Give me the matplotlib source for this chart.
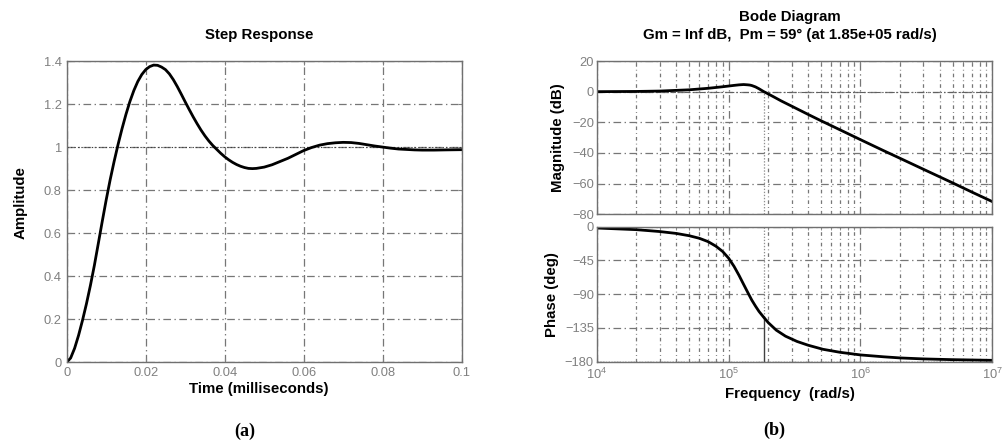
import numpy as np
import matplotlib
matplotlib.use("Agg")
import matplotlib.pyplot as plt

plt.rcParams['font.family'] = ['Liberation Sans', 'DejaVu Sans']
plt.rcParams['mathtext.fontset'] = 'custom'
plt.rcParams['mathtext.rm'] = 'Liberation Sans'
plt.rcParams['mathtext.it'] = 'Liberation Sans:italic'
plt.rcParams['lines.scale_dashes'] = False

# step response (time in ms)
step_t = [0, 0.001, 0.002, 0.003, 0.004, 0.005, 0.006, 0.007, 0.008, 0.009,
          0.010, 0.011, 0.012, 0.013, 0.014, 0.015, 0.016, 0.017, 0.018, 0.019,
          0.020, 0.021, 0.022, 0.023, 0.024, 0.025, 0.026, 0.027, 0.028, 0.029,
          0.030, 0.031, 0.032, 0.033, 0.034, 0.035, 0.036, 0.037, 0.038, 0.039,
          0.040, 0.041, 0.042, 0.043, 0.044, 0.045, 0.046, 0.047, 0.048, 0.050,
          0.052, 0.054, 0.056, 0.058, 0.060, 0.062, 0.064, 0.066, 0.068, 0.070,
          0.072, 0.074, 0.076, 0.078, 0.080, 0.082, 0.084, 0.086, 0.088, 0.090,
          0.093, 0.096, 0.100]
step_y = [0, 0.02, 0.065, 0.125, 0.195, 0.272, 0.357, 0.45, 0.552, 0.655,
          0.755, 0.848, 0.933, 1.012, 1.085, 1.152, 1.212, 1.263, 1.305, 1.337,
          1.36, 1.374, 1.381, 1.380, 1.372, 1.36, 1.34, 1.313, 1.281, 1.246,
          1.21, 1.175, 1.141, 1.109, 1.079, 1.052, 1.028, 1.007, 0.989, 0.971,
          0.955, 0.941, 0.929, 0.919, 0.911, 0.905, 0.901, 0.900, 0.901, 0.907,
          0.918, 0.933, 0.948, 0.966, 0.984, 0.998, 1.009, 1.016, 1.020, 1.022,
          1.021, 1.017, 1.011, 1.005, 1.000, 0.995, 0.991, 0.989, 0.987, 0.986,
          0.986, 0.987, 0.988]

# bode magnitude
mag_w = [1e4, 2e4, 3e4, 5e4, 7e4, 9e4, 1.1e5, 1.2e5, 1.3e5, 1.4e5, 1.45e5,
         1.5e5, 1.6e5, 1.7e5, 1.8e5, 1.85e5, 1.9e5, 2.0e5, 2.2e5, 2.5e5, 3e5,
         4e5, 5e5, 7e5, 1e6, 1.5e6, 2e6, 3e6, 5e6, 7e6, 1e7]
mag_db = [0.0, 0.15, 0.4, 1.2, 2.2, 3.2, 4.1, 4.45, 4.65, 4.45, 4.3,
          4.0, 3.1, 1.9, 0.6, 0.0, -0.5, -1.5, -3.4, -6.0, -9.4,
          -14.8, -18.9, -24.9, -31.3, -38.5, -43.5, -50.6, -59.5, -65.5, -71.7]

# bode phase
ph_w = [1e4, 2e4, 3e4, 4e4, 5e4, 6e4, 7e4, 8e4, 9e4, 1e5, 1.1e5, 1.2e5,
        1.3e5, 1.4e5, 1.5e5, 1.6e5, 1.7e5, 1.85e5, 2e5, 2.3e5, 2.7e5, 3.3e5,
        4e5, 5.2e5, 7e5, 1e6, 1.5e6, 2e6, 3e6, 5e6, 1e7]
ph_deg = [-1.8, -4.0, -6.5, -9.0, -12.0, -15.5, -20, -26, -33, -42, -53, -65,
          -77, -88, -98, -106, -113, -121, -128, -138, -146, -153,
          -158, -163.5, -167.5, -171, -173.5, -175, -176.3, -177.3, -178.2]

w_c = 1.85e5
pm_phase = -121

grey = '#808080'
grid_c = '#767676'
major_ls = (0, (5.5, 2.5, 1, 2.5))
minor_ls = (0, (2.6, 2.2, 0.6, 2.2))


def style(ax):
    for s in ax.spines.values():
        s.set_color('#707070')
        s.set_linewidth(1.0)
    ax.tick_params(which='both', direction='in', top=True, right=True,
                   color=grey, labelcolor=grey, labelsize=9.3)
    ax.tick_params(which='major', length=3, pad=3.5)
    ax.tick_params(which='minor', length=2)
    ax.set_axisbelow(True)


fig = plt.figure(figsize=(10.06, 4.44), dpi=100)

# (a) step response
ax = fig.add_axes([0.0663, 0.1840, 0.3927, 0.6786])
style(ax)
ax.grid(True, color=grid_c, linestyle=major_ls, linewidth=0.9)
ax.axhline(1.0, color='#404040', linestyle=(0, (1, 1.5)), linewidth=0.8)
ax.plot(step_t, step_y, color='black', linewidth=2.0)
ax.set_xlim(0, 0.1)
ax.set_ylim(0, 1.4)
ax.set_xticks([0, 0.02, 0.04, 0.06, 0.08, 0.1])
ax.set_xticklabels(['0', '0.02', '0.04', '0.06', '0.08', '0.1'])
ax.set_yticks([0, 0.2, 0.4, 0.6, 0.8, 1.0, 1.2, 1.4])
ax.set_yticklabels(['0', '0.2', '0.4', '0.6', '0.8', '1', '1.2', '1.4'])

fig.text(259 / 1006, 1 - 35 / 444, 'Step Response', ha='center', va='center',
         fontsize=10.8, fontweight='bold')
fig.text(259 / 1006, 1 - 389 / 444, 'Time (milliseconds)', ha='center', va='center',
         fontsize=10.8, fontweight='bold')
fig.text(21 / 1006, 1 - 203 / 444, 'Amplitude', ha='center', va='center',
         rotation=90, fontsize=10.8, fontweight='bold')
fig.text(245 / 1006, 1 - 431 / 444, '(a)', ha='center', va='center',
         fontsize=13, fontweight='bold', family='Liberation Serif')

# (b) bode diagram
ax1 = fig.add_axes([0.5932, 0.5173, 0.3932, 0.3453])
ax2 = fig.add_axes([0.5932, 0.1854, 0.3932, 0.3041])
for a in (ax1, ax2):
    a.set_xscale('log')
    a.set_xlim(1e4, 1e7)
    style(a)
    a.grid(True, which='major', color=grid_c, linestyle=major_ls, linewidth=0.9)
    a.grid(True, which='minor', axis='x', color=grid_c, linestyle=minor_ls, linewidth=0.9)

ax1.axhline(0, color='#606060', linestyle=(0, (4, 1.5, 1, 1.5, 1, 1.5)), linewidth=0.8)
ax1.plot([w_c, w_c], [-80, 0], color='#909090', linestyle=(0, (1, 1.2)), linewidth=0.9)
ax1.plot(mag_w, mag_db, color='black', linewidth=2.0)
ax1.set_ylim(-80, 20)
ax1.set_yticks([20, 0, -20, -40, -60, -80])
ax1.tick_params(labelbottom=False)

ax2.axhline(-180, color='#404040', linestyle=(0, (1, 1)), linewidth=1.0)
ax2.plot([w_c, w_c], [pm_phase, 0], color='#909090', linestyle=(0, (1, 1.2)), linewidth=0.9)
ax2.plot([w_c, w_c], [-180, pm_phase], color='#404040', linewidth=1.0)
ax2.plot(ph_w, ph_deg, color='black', linewidth=2.0)
ax2.set_ylim(-180, 0)
ax2.set_yticks([0, -45, -90, -135, -180])
ax2.set_xticks([1e4, 1e5, 1e6, 1e7])
ax2.set_xticklabels([r'$10^{4}$', r'$10^{5}$', r'$10^{6}$', r'$10^{7}$'])
ax2.tick_params(axis='x', pad=4)
for a in (ax1, ax2):
    a.tick_params(axis='y', pad=2)

fig.text(790 / 1006, 1 - 17 / 444, 'Bode Diagram', ha='center', va='center',
         fontsize=10.8, fontweight='bold')
fig.text(790 / 1006, 1 - 35 / 444, 'Gm = Inf dB,  Pm = 59\u00b0 (at 1.85e+05 rad/s)',
         ha='center', va='center', fontsize=10.8, fontweight='bold')
fig.text(790 / 1006, 1 - 394 / 444, 'Frequency  (rad/s)', ha='center', va='center',
         fontsize=10.8, fontweight='bold')
fig.text(558 / 1006, 1 - 138 / 444, 'Magnitude (dB)', ha='center', va='center',
         rotation=90, fontsize=10.8, fontweight='bold')
fig.text(552 / 1006, 1 - 295 / 444, 'Phase (deg)', ha='center', va='center',
         rotation=90, fontsize=10.8, fontweight='bold')
fig.text(774 / 1006, 1 - 430 / 444, '(b)', ha='center', va='center',
         fontsize=13, fontweight='bold', family='Liberation Serif')

fig.savefig('out.png', dpi=100)
